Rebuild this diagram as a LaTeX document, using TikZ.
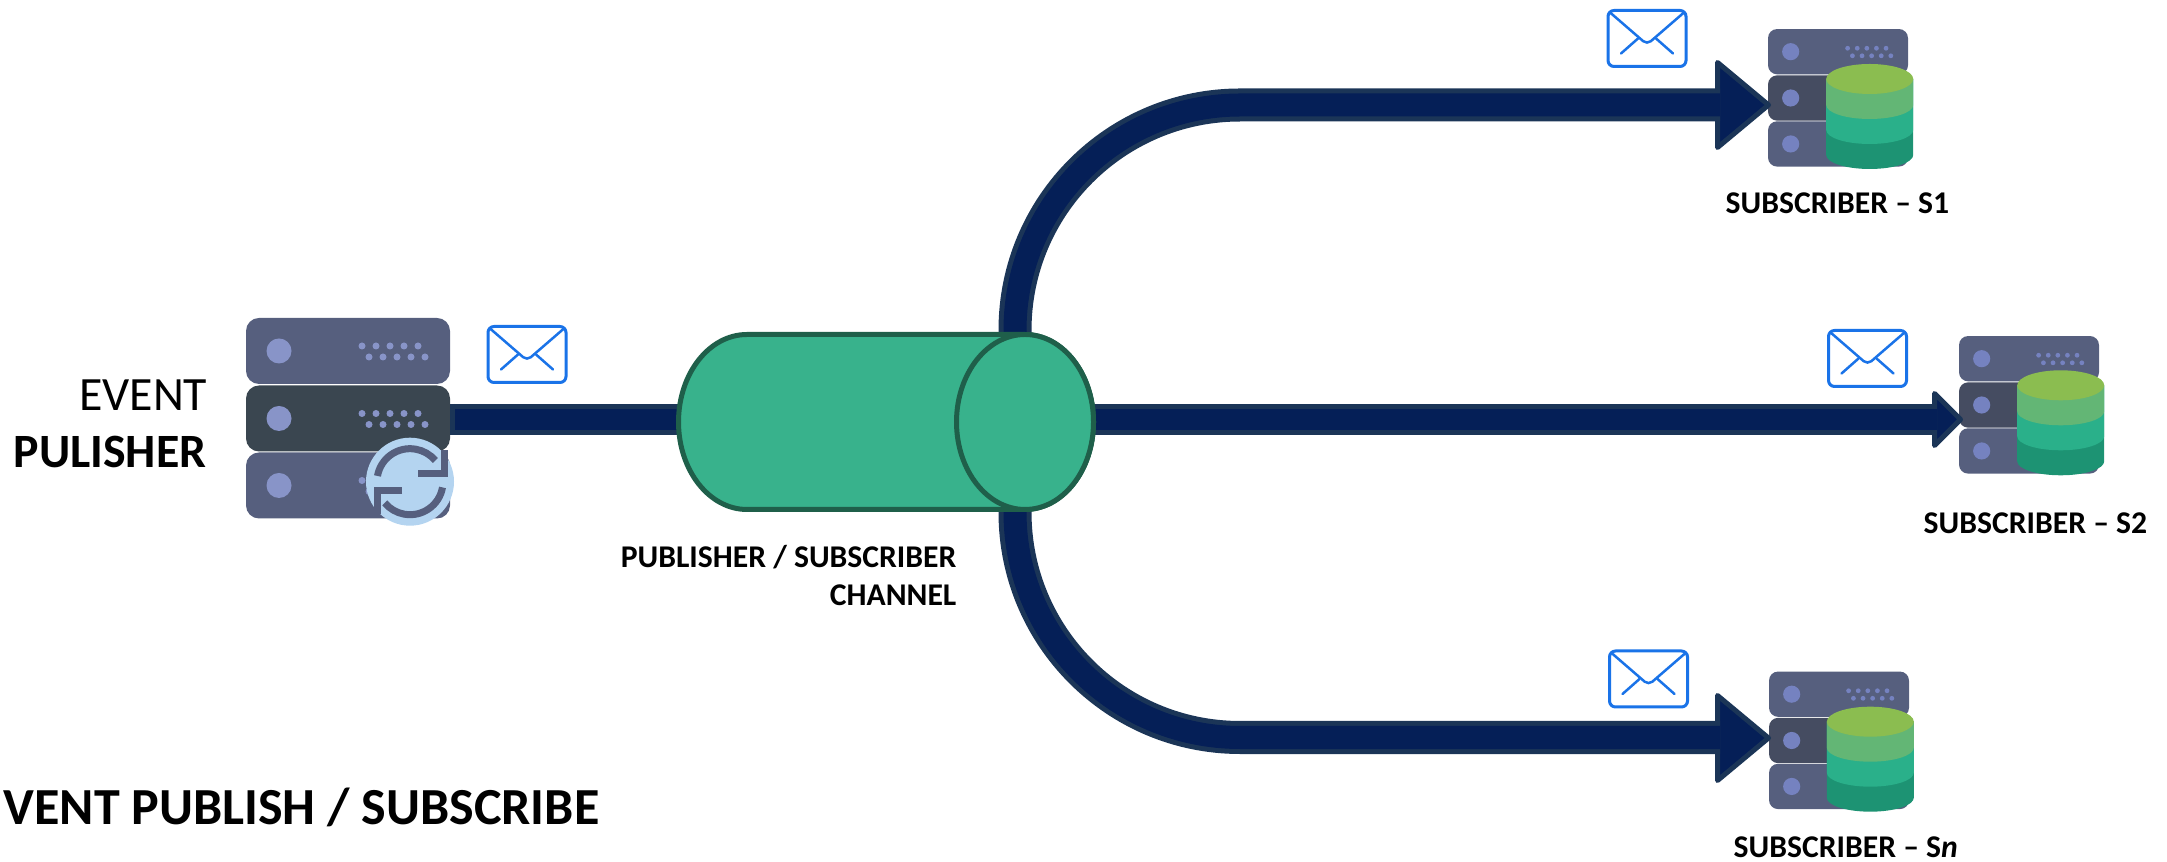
\documentclass[tikz,border=0pt]{standalone}
\usepackage{fontspec}
\setmainfont{Carlito}
\usetikzlibrary{backgrounds,calc}
\definecolor{flowcore}{HTML}{051F57}
\definecolor{flowedge}{HTML}{1B3557}
\definecolor{chanfill}{HTML}{38B28C}
\definecolor{chanedge}{HTML}{1F5F4A}
\definecolor{rack}{HTML}{565F7E}
\definecolor{rackdark}{HTML}{3A4650}
\definecolor{rackmid}{HTML}{454C61}
\definecolor{led}{HTML}{8894C8}
\definecolor{ledsub}{HTML}{7582C0}
\definecolor{mailblue}{HTML}{1A73E8}
\definecolor{syncring}{HTML}{B4D4F0}
\definecolor{dbtop}{HTML}{8BBD50}
\definecolor{dbone}{HTML}{63B675}
\definecolor{dbtwo}{HTML}{2AB08A}
\definecolor{dbthree}{HTML}{1D9373}
\tikzset{
  flow/.style={draw=flowedge,line width=.05cm,double=flowcore,double distance=.23cm},
  flowthin/.style={flow,double distance=.21cm},
  flowhead/.style={draw=flowedge,fill=flowcore,line width=.05cm,line join=round},
  chanbody/.style={draw=chanedge,fill=chanfill,line width=.05cm},
  lbl/.style={inner sep=0,font=\fontsize{9}{10.8}\selectfont\bfseries},
  pics/server/.style n args={3}{code={
    \foreach \y/\c in {-67.5/rack,0/#1,67/rack}{
      \fill[\c,rounded corners=#3] (-102,\y-33) rectangle (102,\y+33);
      \fill[#2] (-69,\y) circle[radius=12.5];
      \foreach \x in {14,28,42,56,70}{
        \fill[#2] (\x,\y-5) circle[radius=3.5];
        \fill[#2] (\x+7,\y+6) circle[radius=3.5];
      }
    }
  }},
  pics/mail/.style={code={
    \draw[mailblue,line width=.03cm,rounded corners=.06cm] (-39,-28) rectangle (39,28);
    \draw[mailblue,line width=.025cm,line cap=round,rounded corners=.05cm] (-37,-26) -- (0,6) -- (37,-26);
    \draw[mailblue,line width=.025cm,line cap=round] (-9,0) -- (-26,15) (9,0) -- (26,15);
  }},
  pics/database/.style={code={
    \fill[dbthree] (-43.5,0) -- (-43.5,76) arc[start angle=180,end angle=0,x radius=43.5,y radius=14] -- (43.5,0) -- cycle;
    \fill[dbtwo] (-43.5,0) -- (-43.5,51) arc[start angle=180,end angle=0,x radius=43.5,y radius=14] -- (43.5,0) -- cycle;
    \fill[dbone] (-43.5,0) -- (-43.5,26) arc[start angle=180,end angle=0,x radius=43.5,y radius=14] -- (43.5,0) -- cycle;
    \fill[dbtop] (0,0) ellipse[x radius=43.5,y radius=15];
  }},
  pics/sync/.style={code={
    \fill[syncring] (0,0) circle[radius=44];
    \draw[rack,line width=.07cm] (190:33) arc[start angle=190,end angle=320,radius=33];
    \draw[rack,line width=.07cm] (10:33) arc[start angle=10,end angle=140,radius=33];
    \draw[rack,line width=.07cm] (8,-8) -- (34,-8) -- (34,-32);
    \draw[rack,line width=.07cm] (-8,9) -- (-33,9) -- (-33,32);
  }}
}
\begin{document}
\begin{tikzpicture}[x=.01cm,y=-.01cm]
    \useasboundingbox (0,0) rectangle (2167,862);
    % channel
    \node[inner sep=0,minimum width=4.2cm,minimum height=1.8cm] (chan) at (886,422) {};
    \draw[chanbody] (747,334.5) -- (1025,334.5) arc[start angle=-90,end angle=90,x radius=68.5,y radius=87.5]
      -- (747,509.5) arc[start angle=90,end angle=270,x radius=68.5,y radius=87.5] -- cycle;
    \draw[chanbody] (1025,422) ellipse[x radius=68.5,y radius=87.5];
    \node[lbl,align=right,anchor=north east] (chanlabel) at (957,544.5) {PUBLISHER / SUBSCRIBER\\CHANNEL};
    % end points of the connectors
    \coordinate (pubport) at (455,419.5);
    \coordinate (fork) at (1015,422);
    \coordinate (neckone) at (1720,105);
    \coordinate (necktwo) at (1937,419.5);
    \coordinate (neckn) at (1720,737.5);
    \begin{scope}[on background layer]
    % servers
    \pic at (348,418.5) {server={rackdark}{led}{.13cm}};
    \pic[scale=.686] at (1838,98) {server={rackmid}{ledsub}{.09cm}};
    \pic[scale=.686] at (2029,405) {server={rackmid}{ledsub}{.09cm}};
    \pic[scale=.686] at (1839,740.5) {server={rackmid}{ledsub}{.09cm}};
    % arrow heads
    \draw[flowhead] (1717.5,62.5) -- (1768.5,105) -- (1717.5,147.5) -- cycle;
    \draw[flowhead] (1934.5,393.5) -- (1960.5,419.5) -- (1934.5,445.5) -- cycle;
    \draw[flowhead] (1717.5,695.5) -- (1768.5,738) -- (1717.5,780.5) -- cycle;
    % connectors
    \draw[flowthin] (pubport) -- (pubport -| chan.center);
    \draw[flowedge,line width=.05cm] ($(pubport)+(-2.5,-15.5)$) -- ($(pubport)+(-2.5,15.5)$);
    \draw[flowthin] (chan.center |- necktwo) -- (necktwo);
    \draw[flow,rounded corners=2.25cm] (fork) |- (neckone);
    \draw[flow,rounded corners=2.25cm] (fork) |- (neckn);
    \end{scope}
    % icons on the servers
    \pic at (410,481.7) {sync};
    \pic at (1869.7,79) {database};
    \pic at (2060.7,385.3) {database};
    \pic at (1870.3,721.7) {database};
    % messages
    \pic at (527,354.5) {mail};
    \pic at (1647,38.5) {mail};
    \pic at (1867.5,358.5) {mail};
    \pic at (1648.5,679) {mail};
    % texts
    \node[anchor=base east,inner sep=0,font=\fontsize{13.6}{13.6}\selectfont] (eventlabel) at (208,411) {EVENT};
    \node[anchor=base east,inner sep=0,font=\fontsize{13.6}{13.6}\selectfont\bfseries] (publabel) at (207,468) {PULISHER};
    \node[lbl,anchor=base west] (sonelabel) at (1725,214) {SUBSCRIBER – S1};
    \node[lbl,anchor=base west] (stwolabel) at (1923,534) {SUBSCRIBER – S2};
    \node[lbl,anchor=base west] (snlabel) at (1733,858) {SUBSCRIBER – S\textit{n}};
    \node[anchor=base east,inner sep=0,font=\fontsize{14.8}{18}\selectfont\bfseries] (title) at (600,825) {E\kern3.5pt VENT PUBLISH / SUBSCRIBE};
\end{tikzpicture}
\end{document}
